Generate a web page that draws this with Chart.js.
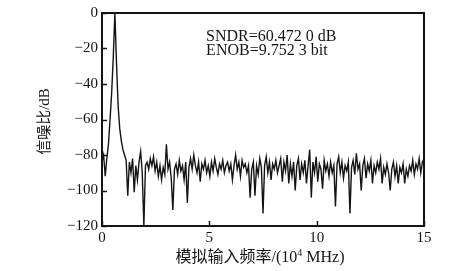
<!DOCTYPE html>
<html>
<head>
<meta charset="utf-8">
<script src="https://cdn.jsdelivr.net/npm/chart.js@4/dist/chart.umd.min.js"></script>
<style>
  html, body { margin: 0; padding: 0; background: #fff; }
  #wrap { width: 464px; height: 271px; }
</style>
</head>
<body>
<div id="wrap"><canvas id="fft"></canvas></div>
<script>
// frequency bin spacing, in units of 10^4 MHz
const binWidth = 0.075;

// spectrum in dB, one value per bin
const snrDb = [
  -84, -80, -92, -82, -74, -60, -45, -25, 0, -28,
  -52, -65, -72, -77, -80, -83, -103, -84, -90, -82,
  -101, -86, -94, -84, -78, -90, -120, -86, -84, -88,
  -82, -86, -81, -89, -84, -92, -86, -94, -87, -91,
  -74, -88, -84, -93, -111, -88, -85, -91, -83, -89,
  -86, -94, -84, -107, -87, -82, -88, -80, -86, -90,
  -84, -95, -85, -88, -83, -90, -86, -92, -84, -89,
  -82, -87, -91, -85, -88, -83, -90, -86, -84, -89,
  -85, -94, -86, -80, -88, -84, -92, -83, -87, -85,
  -90, -86, -104, -88, -84, -103, -86, -91, -82, -87,
  -113, -86, -81, -90, -84, -94, -85, -88, -83, -90,
  -86, -82, -95, -84, -89, -80, -96, -85, -92, -84,
  -100, -86, -82, -94, -85, -90, -83, -96, -86, -77,
  -104, -84, -90, -81, -95, -85, -88, -99, -83, -89,
  -85, -92, -84, -90, -86, -109, -85, -81, -90, -84,
  -93, -86, -89, -84, -113, -87, -83, -91, -79, -88,
  -85, -100, -86, -82, -93, -85, -89, -83, -96, -86,
  -90, -84, -88, -82, -96, -87, -91, -85, -90, -100,
  -88, -84, -92, -86, -96, -87, -90, -85, -96, -88,
  -92, -86, -89, -83, -91, -85, -88, -82, -90, -84,
  -82
];

const xTicks = [0, 5, 10, 15];
const yTicks = [0, -20, -40, -60, -80, -100, -120];

const yTitle = '信噪比/dB';
const xTitleMain = '模拟输入频率/(10';
const xTitleSup = '4';
const xTitleEnd = ' MHz)';
const noteLines = ['SNDR=60.472 0 dB', 'ENOB=9.752 3 bit'];

const serif = '"Liberation Serif", "Noto Sans CJK SC", serif';
const ink = '#141414';

const points = snrDb.map((v, i) => ({ x: +(i * binWidth).toFixed(3), y: v }));

// box, inward ticks, titles and the SNDR/ENOB note
const framePlugin = {
  id: 'frame',
  afterDraw(chart) {
    const { ctx, chartArea: a, scales: { x, y } } = chart;
    ctx.save();
    ctx.strokeStyle = ink;
    ctx.fillStyle = ink;

    ctx.lineWidth = 1.5;
    yTicks.forEach(v => {
      const py = Math.round(y.getPixelForValue(v)) + 0.5;
      ctx.beginPath();
      ctx.moveTo(a.left, py);
      ctx.lineTo(a.left + 5, py);
      ctx.stroke();
    });
    xTicks.forEach(v => {
      const px = Math.round(x.getPixelForValue(v)) + 0.5;
      ctx.beginPath();
      ctx.moveTo(px, a.bottom);
      ctx.lineTo(px, a.bottom - 5);
      ctx.stroke();
    });

    ctx.lineWidth = 2;
    ctx.strokeRect(a.left, a.top, a.right - a.left, a.bottom - a.top);

    // note in the upper right
    ctx.font = '16px ' + serif;
    ctx.textAlign = 'left';
    ctx.textBaseline = 'middle';
    ctx.fillText(noteLines[0], x.getPixelForValue(4.85), y.getPixelForValue(-13.5));
    ctx.fillText(noteLines[1], x.getPixelForValue(4.85), y.getPixelForValue(-21.2));

    // y title
    ctx.font = '15px ' + serif;
    ctx.save();
    ctx.translate(45, (a.top + a.bottom) / 2 + 2);
    ctx.rotate(-Math.PI / 2);
    ctx.textAlign = 'center';
    ctx.fillText(yTitle, 0, 0);
    ctx.restore();

    // x title with superscript
    ctx.font = '16px ' + serif;
    const w1 = ctx.measureText(xTitleMain).width;
    const w3 = ctx.measureText(xTitleEnd).width;
    ctx.font = '10px ' + serif;
    const w2 = ctx.measureText(xTitleSup).width;
    let tx = 260 - (w1 + w2 + w3) / 2;
    const ty = 258;
    ctx.textAlign = 'left';
    ctx.font = '16px ' + serif;
    ctx.fillText(xTitleMain, tx, ty);
    tx += w1;
    ctx.font = '10px ' + serif;
    ctx.fillText(xTitleSup, tx, ty - 5);
    tx += w2;
    ctx.font = '16px ' + serif;
    ctx.fillText(xTitleEnd, tx, ty);

    ctx.restore();
  }
};

new Chart(document.getElementById('fft'), {
  type: 'scatter',
  data: {
    datasets: [{
      data: points,
      showLine: true,
      borderColor: ink,
      borderWidth: 1.4,
      pointRadius: 0,
      tension: 0
    }]
  },
  options: {
    responsive: true,
    maintainAspectRatio: false,
    animation: false,
    layout: { padding: { top: 13, right: 40, left: 0, bottom: 0 } },
    plugins: { legend: { display: false }, tooltip: { enabled: false } },
    scales: {
      x: {
        type: 'linear',
        min: 0,
        max: 15,
        afterBuildTicks: s => { s.ticks = xTicks.map(v => ({ value: v })); },
        ticks: { color: ink, font: { family: serif, size: 15 }, padding: 3, maxRotation: 0 },
        grid: { display: false, drawTicks: false },
        border: { display: false },
        afterFit: s => { s.height = 45; }
      },
      y: {
        min: -120,
        max: 0,
        afterBuildTicks: s => { s.ticks = yTicks.map(v => ({ value: v })); },
        ticks: {
          color: ink,
          font: { family: serif, size: 15 },
          padding: 4,
          callback: v => (v < 0 ? '\u2212' + Math.abs(v) : String(v))
        },
        grid: { display: false, drawTicks: false },
        border: { display: false },
        afterFit: s => { s.width = 102; }
      }
    }
  },
  plugins: [framePlugin]
});
</script>
</body>
</html>
